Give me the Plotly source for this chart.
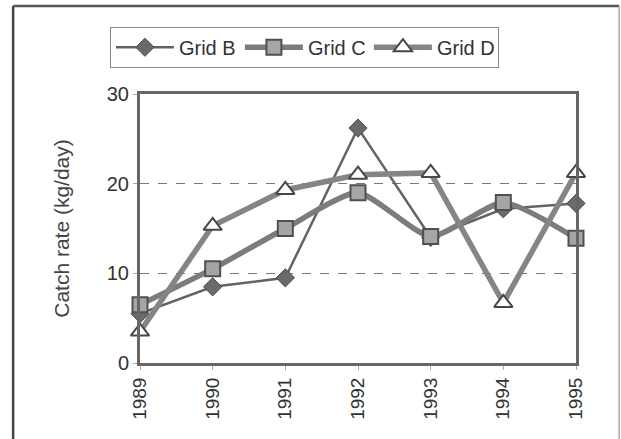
import plotly.graph_objects as go

# Data
years = [1989, 1990, 1991, 1992, 1993, 1994, 1995]
grid_b = [5.5, 8.5, 9.5, 26.2, 14.0, 17.2, 17.8]
grid_c = [6.5, 10.5, 15.0, 19.0, 14.1, 17.9, 13.9]
grid_d = [3.5, 15.3, 19.3, 21.0, 21.2, 6.7, 21.2]
y_ticks = [0, 10, 20, 30]

fig = go.Figure()

# Grid B: thin line, dark diamonds
fig.add_trace(go.Scatter(
    x=years, y=grid_b, name="Grid B", mode="lines+markers",
    line=dict(color="#636363", width=2.5),
    marker=dict(symbol="diamond", size=14, color="#6a6a6a",
                line=dict(color="#4a4a4a", width=1)),
    cliponaxis=False
))

# Grid C: thick smoothed line, grey squares
fig.add_trace(go.Scatter(
    x=years, y=grid_c, name="Grid C", mode="lines+markers",
    line=dict(color="#7c7c7c", width=5.5, shape="spline", smoothing=0.6),
    marker=dict(symbol="square", size=15, color="#a5a5a5",
                line=dict(color="#505050", width=2)),
    cliponaxis=False
))

# Grid D: thick line, white triangles
fig.add_trace(go.Scatter(
    x=years, y=grid_d, name="Grid D", mode="lines+markers",
    line=dict(color="#858585", width=5.5),
    marker=dict(symbol="triangle-up", size=16, color="white",
                line=dict(color="#474747", width=2)),
    cliponaxis=False
))

fig.update_layout(
    width=621, height=439,
    margin=dict(l=140, r=45, t=94, b=76),
    paper_bgcolor="white", plot_bgcolor="white",
    font=dict(family="Liberation Sans, Arial, sans-serif", size=19, color="#333333"),
    showlegend=True,
    legend=dict(
        orientation="h", x=-0.069, y=1.25, xanchor="left", yanchor="top",
        bordercolor="#888888", borderwidth=1, bgcolor="white",
        font=dict(size=20, color="#333333"),
        itemwidth=58, entrywidth=56, tracegroupgap=0,
    ),
    shapes=[
        # outer chart border: dark left/top, light right
        dict(type="line", xref="paper", yref="paper",
             x0=-0.291, x1=-0.291, y0=-0.4, y1=1.327,
             line=dict(color="#444444", width=2.5)),
        dict(type="line", xref="paper", yref="paper",
             x0=-0.291, x1=1.099, y0=1.327, y1=1.327,
             line=dict(color="#555555", width=2.5)),
        dict(type="line", xref="paper", yref="paper",
             x0=1.099, x1=1.099, y0=-0.4, y1=1.327,
             line=dict(color="#aaaaaa", width=1.5)),
    ],
)

fig.update_xaxes(
    range=[1989, 1995], tickmode="array", tickvals=years,
    ticktext=[str(y) for y in years], tickangle=-90,
    showgrid=False, zeroline=False,
    showline=True, linecolor="#666666", linewidth=3, mirror=True,
    ticks="outside", ticklen=4, tickcolor="#aaaaaa",
    tickfont=dict(size=19, color="#333333"),
)
fig.update_yaxes(
    range=[0, 30], tickmode="array", tickvals=y_ticks,
    showgrid=True, gridcolor="#777777", griddash="dash", gridwidth=1,
    zeroline=False,
    showline=True, linecolor="#666666", linewidth=3, mirror=True,
    ticks="outside", ticklen=4, tickcolor="#aaaaaa",
    tickfont=dict(size=20, color="#333333"),
    title=dict(text="Catch rate (kg/day)", font=dict(size=21, color="#444444"),
               standoff=32),
)

fig.write_html("out.html", config={"displayModeBar": False},
               post_script="document.body.style.margin='0';")
